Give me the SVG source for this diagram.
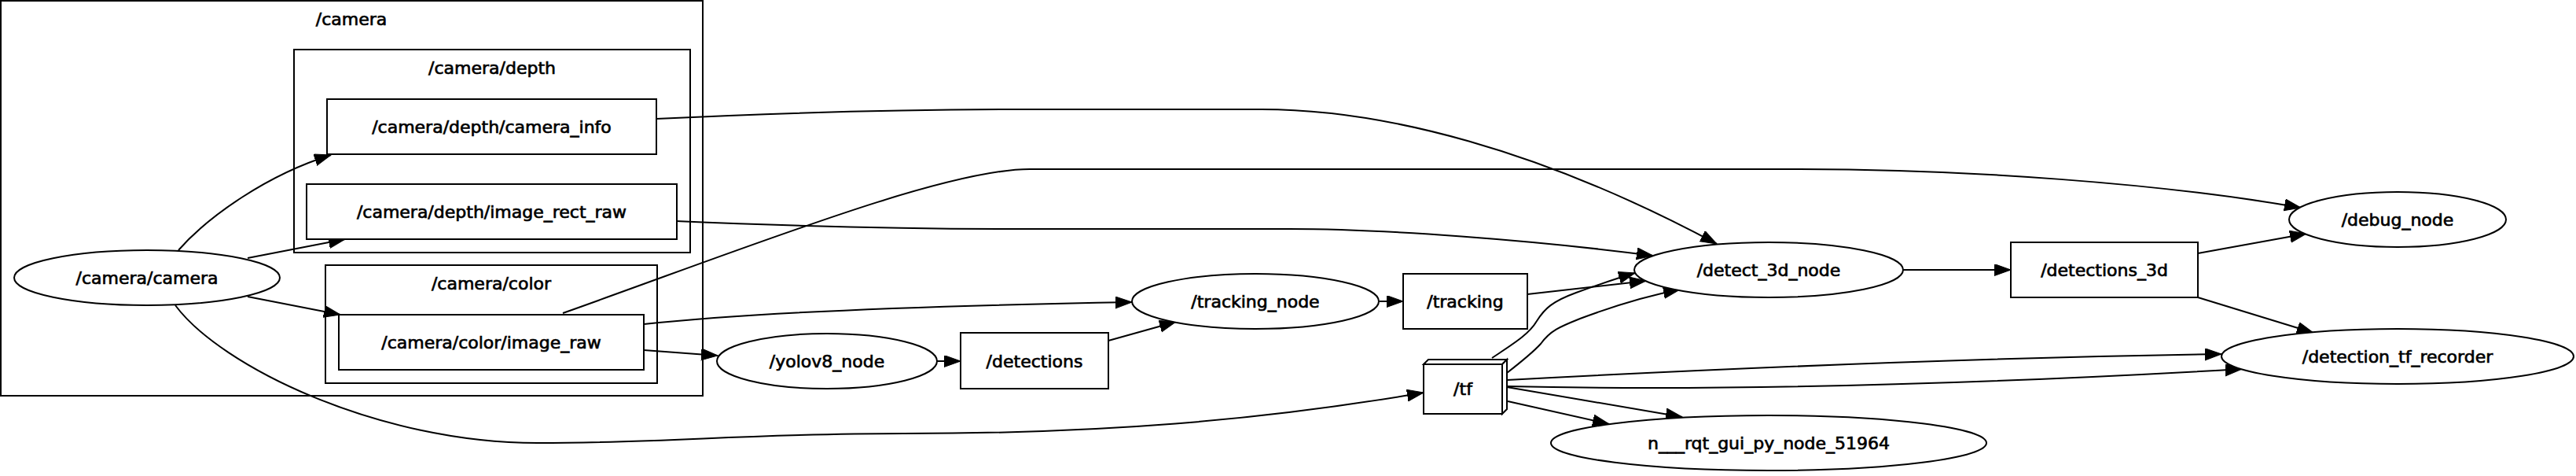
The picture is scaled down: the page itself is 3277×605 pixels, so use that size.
<svg xmlns="http://www.w3.org/2000/svg" width="3277" height="605" viewBox="0 0 3277 605">
<style>
.cl{fill:none;stroke:#000;stroke-width:2}
.nd{fill:#fff;stroke:#000;stroke-width:2}
.t{font-family:"DejaVu Sans","Liberation Sans",sans-serif;font-size:22px;text-anchor:middle;fill:#000;stroke:#000;stroke-width:0.7px}
.e{fill:none;stroke:#000;stroke-width:2;marker-end:url(#ah)}
</style>
<defs>
<marker id="ah" markerUnits="userSpaceOnUse" markerWidth="24" markerHeight="18" refX="21" refY="7.5" orient="auto" viewBox="0 0 24 18">
<path d="M0,0 L21,7.5 L0,15 z" fill="#000" stroke="#000" stroke-width="1"/>
</marker>
</defs>
<rect width="3277" height="605" fill="#fff"/>
<g id="cluster_camera">
<rect class="cl" x="1" y="1" width="893" height="502"/>
<text class="t" x="447" y="32">/camera</text>
</g>
<g id="cluster_camera_depth">
<rect class="cl" x="374" y="63" width="504" height="258"/>
<text class="t" x="626" y="94">/camera/depth</text>
</g>
<g id="cluster_camera_color">
<rect class="cl" x="414" y="337" width="422" height="150"/>
<text class="t" x="625" y="368">/camera/color</text>
</g>
<g id="edges">
<path class="e" d="M227,318 C265,275 340,222 421,197"/>
<path class="e" d="M315,328 L439,304"/>
<path class="e" d="M315,377 L433,400"/>
<path class="e" d="M223,388 C280,465 480,563 684,563 C850,563 950,551 1150,551 C1400,551 1600,535 1811,499"/>
<path class="e" d="M835,151 C1000,143 1150,139 1300,139 L1605,139 C1760,139 1960,190 2184,310"/>
<path class="e" d="M716,398 C950,315 1200,215 1310,215 L2290,215 C2500,215 2750,233 2927,264"/>
<path class="e" d="M860,281 C1000,287 1150,291 1300,291 L1640,291 C1760,291 1950,305 2103,325"/>
<path class="e" d="M819,412 C950,398 1150,389 1440,384"/>
<path class="e" d="M819,445 L913,452"/>
<path class="e" d="M1192,459 L1222,459"/>
<path class="e" d="M1410,433 L1496,409"/>
<path class="e" d="M1755,383 L1785,383"/>
<path class="e" d="M1943,374 L2094,357"/>
<path class="e" d="M1898,455 C1925,437 1945,425 1955,408 C1965,392 1975,383 2005,372 C2030,363 2055,354 2080,347"/>
<path class="e" d="M1917,474 C1935,460 1950,448 1960,437 C1972,420 1985,415 2010,405 C2050,390 2090,377 2137,368"/>
<path class="e" d="M1917,483 C2200,468 2500,455 2826,450"/>
<path class="e" d="M1917,491 C2100,495 2400,495 2852,469"/>
<path class="e" d="M1917,492 L2140,530"/>
<path class="e" d="M1918,510 L2047,539"/>
<path class="e" d="M2421,343 L2558,343"/>
<path class="e" d="M2796,322 L2934,297"/>
<path class="e" d="M2796,378 L2943,423"/>
</g>
<g id="node_camera_info">
<rect class="nd" x="416" y="126" width="419" height="70"/>
<text class="t" x="625.5" y="169">/camera/depth/camera_info</text>
</g>
<g id="node_image_rect_raw">
<rect class="nd" x="390" y="234" width="471" height="70"/>
<text class="t" x="625.5" y="277">/camera/depth/image_rect_raw</text>
</g>
<g id="node_image_raw">
<rect class="nd" x="431" y="400" width="388" height="70"/>
<text class="t" x="625" y="443">/camera/color/image_raw</text>
</g>
<g id="node_camera_camera">
<ellipse class="nd" cx="187" cy="353" rx="169" ry="35"/>
<text class="t" x="187" y="361">/camera/camera</text>
</g>
<g id="node_yolov8">
<ellipse class="nd" cx="1052" cy="459" rx="140" ry="35"/>
<text class="t" x="1052" y="467">/yolov8_node</text>
</g>
<g id="node_detections">
<rect class="nd" x="1222" y="423" width="188" height="71"/>
<text class="t" x="1316" y="467">/detections</text>
</g>
<g id="node_tracking_node">
<ellipse class="nd" cx="1597" cy="383" rx="157" ry="35"/>
<text class="t" x="1597" y="391">/tracking_node</text>
</g>
<g id="node_tracking">
<rect class="nd" x="1785" y="348" width="158" height="70"/>
<text class="t" x="1864" y="391">/tracking</text>
</g>
<g id="node_tf">
<polygon class="nd" points="1811,463 1817,457 1917,457 1911,463"/>
<polygon class="nd" points="1911,463 1917,457 1917,520 1911,526"/>
<rect class="nd" x="1811" y="463" width="100" height="63"/>
<text class="t" x="1861" y="502">/tf</text>
</g>
<g id="node_detect_3d">
<ellipse class="nd" cx="2250" cy="343" rx="171" ry="35"/>
<text class="t" x="2250" y="351">/detect_3d_node</text>
</g>
<g id="node_detections_3d">
<rect class="nd" x="2558" y="308" width="238" height="70"/>
<text class="t" x="2677" y="351">/detections_3d</text>
</g>
<g id="node_debug">
<ellipse class="nd" cx="3050" cy="279" rx="138" ry="35"/>
<text class="t" x="3050" y="287">/debug_node</text>
</g>
<g id="node_recorder">
<ellipse class="nd" cx="3050" cy="453" rx="224" ry="35"/>
<text class="t" x="3050" y="461">/detection_tf_recorder</text>
</g>
<g id="node_rqt">
<ellipse class="nd" cx="2250" cy="563" rx="277" ry="35"/>
<text class="t" x="2250" y="571">n___rqt_gui_py_node_51964</text>
</g>
</svg>
